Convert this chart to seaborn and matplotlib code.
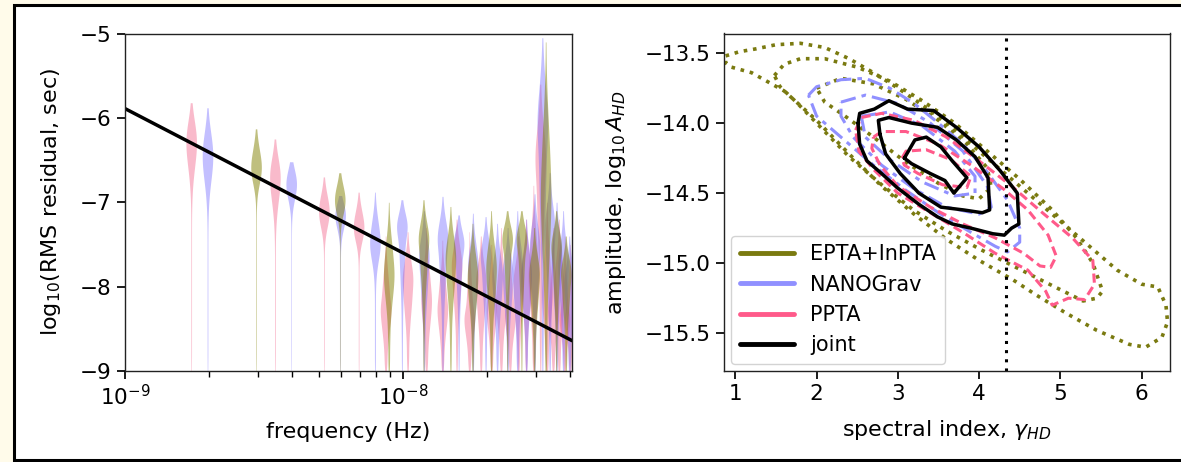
import numpy as np
import pandas as pd
import matplotlib
matplotlib.use("Agg")
import matplotlib.pyplot as plt
from matplotlib.patches import Rectangle
from matplotlib.lines import Line2D
from matplotlib.ticker import FixedLocator, LogLocator, NullFormatter
import seaborn as sns
from statistics import NormalDist

# ---------------- left panel: free-spectrum violins ----------------
# fundamental frequency (1/T) of each PTA, Hz
ppta_f1 = 1.73e-9
nano_f1 = 1.98e-9
epta_f1 = 2.96e-9

# per-frequency-bin posterior shape: top, mode, lower body edge (log10 s)
ppta_top = [-5.82, -6.25, -6.70, -6.88, -7.40, -7.35, -7.30, -7.45, -7.20, -7.35, -7.40, -7.50,
            -7.30, -7.60, -7.40, -7.20, -6.80, -5.60, -7.00, -7.30, -7.20, -7.40, -7.50]
ppta_mode = [-6.30, -6.72, -7.10, -7.28, -8.20, -7.95, -8.10, -8.20, -7.80, -8.30, -8.00, -8.20,
             -8.10, -8.30, -8.00, -7.90, -7.80, -6.60, -8.00, -8.20, -8.00, -8.30, -8.30]
ppta_low = [-6.95, -7.35, -7.45, -7.60, -8.90, -8.80, -8.90, -8.90, -8.70, -8.90, -8.90, -8.90,
            -8.90, -8.90, -8.90, -8.80, -8.80, -8.60, -8.90, -8.90, -8.90, -8.90, -8.90]

nano_top = [-5.88, -6.52, -6.92, -6.88, -6.97, -7.10, -6.93, -7.15, -7.13, -7.17, -7.25, -7.30,
            -7.10, -7.20, -6.90, -5.05, -6.65, -7.00, -7.10, -7.40]
nano_mode = [-6.45, -6.78, -7.15, -7.45, -7.35, -7.70, -7.50, -7.55, -7.80, -7.70, -7.90, -7.90,
             -7.80, -7.90, -7.60, -6.20, -7.40, -7.70, -7.80, -8.00]
nano_low = [-7.10, -7.10, -7.45, -7.95, -8.50, -8.70, -8.60, -8.60, -8.70, -8.70, -8.80, -8.80,
            -8.80, -8.80, -8.70, -8.50, -8.70, -8.80, -8.80, -8.90]

epta_top = [-6.13, -6.65, -7.00, -6.97, -7.05, -7.25, -7.10, -7.10, -7.10, -7.30, -5.10, -7.10, -7.40]
epta_mode = [-6.58, -6.97, -7.80, -7.50, -7.70, -7.90, -7.80, -7.50, -7.50, -7.90, -6.80, -7.60, -7.90]
epta_low = [-6.85, -7.25, -8.60, -8.50, -8.60, -8.70, -8.70, -8.60, -8.60, -8.80, -8.60, -8.70, -8.80]

# power-law reference line
line_freq = [1e-9, 4.05e-8]
line_val = [-5.89, -8.64]

# ---------------- right panel: (gamma, log10 A) contours ----------------
epta_cx = [
    [0.88, 1.05, 1.25, 1.5, 1.8, 2.1, 2.4, 2.7, 3.0, 3.3, 3.6, 3.9, 4.2, 4.5, 4.8, 5.1, 5.4, 5.7, 6.0, 6.2, 6.3,
     6.32, 6.25, 6.05, 5.85, 5.45, 5.08, 4.71, 4.42, 4.0, 3.6, 3.2, 2.8, 2.4, 2.0, 1.6, 1.2, 0.95, 0.88],
    [1.48, 1.6, 1.8, 2.1, 2.5, 2.9, 3.3, 3.7, 4.1, 4.5, 4.9, 5.2, 5.4, 5.52, 5.45, 5.28, 4.83, 4.42, 4.01, 3.6,
     3.19, 2.8, 2.4, 2.05, 1.75, 1.55],
    [2.0, 2.3, 2.7, 3.1, 3.5, 3.85, 4.1, 4.15, 4.0, 3.8, 3.5, 3.1, 2.7, 2.35, 2.1],
]
epta_cy = [
    [-13.52, -13.49, -13.47, -13.44, -13.43, -13.46, -13.54, -13.64, -13.75, -13.87, -14.0, -14.15, -14.3,
     -14.45, -14.6, -14.75, -14.9, -15.05, -15.15, -15.17, -15.3, -15.42, -15.53, -15.6, -15.58, -15.48,
     -15.36, -15.23, -15.12, -14.98, -14.83, -14.65, -14.45, -14.22, -13.98, -13.77, -13.64, -13.6, -13.57],
    [-13.66, -13.58, -13.54, -13.54, -13.6, -13.7, -13.84, -14.0, -14.2, -14.4, -14.62, -14.82, -15.0, -15.2,
     -15.25, -15.27, -15.14, -15.02, -14.9, -14.77, -14.62, -14.44, -14.24, -14.03, -13.85, -13.74],
    [-13.75, -13.68, -13.72, -13.83, -13.98, -14.15, -14.32, -14.46, -14.54, -14.52, -14.43, -14.28, -14.1,
     -13.95, -13.85],
]

nano_cx = [
    [1.9, 2.0, 2.3, 2.6, 2.9, 3.2, 3.5, 3.8, 4.1, 4.35, 4.5, 4.5, 4.35, 4.2, 3.9, 3.5, 3.1, 2.7, 2.3, 2.0],
    [2.3, 2.6, 3.0, 3.4, 3.8, 4.1, 4.15, 4.0, 3.6, 3.2, 2.8, 2.45, 2.3],
    [2.55, 2.9, 3.3, 3.7, 3.95, 3.95, 3.7, 3.3, 2.9, 2.6],
]
nano_cy = [
    [-13.8, -13.74, -13.69, -13.68, -13.75, -13.86, -14.0, -14.15, -14.35, -14.55, -14.75, -14.85, -14.92,
     -14.88, -14.78, -14.64, -14.48, -14.3, -14.1, -13.95],
    [-13.85, -13.8, -13.86, -14.0, -14.2, -14.45, -14.6, -14.65, -14.6, -14.47, -14.3, -14.1, -13.95],
    [-13.95, -13.92, -14.02, -14.2, -14.38, -14.5, -14.52, -14.42, -14.26, -14.1],
]

ppta_cx = [
    [2.48, 2.55, 2.8, 3.2, 3.6, 4.0, 4.4, 4.8, 5.15, 5.4, 5.42, 5.3, 5.1, 4.9, 4.82, 4.6, 4.2, 3.8, 3.4, 3.0,
     2.7, 2.52],
    [2.7, 2.8, 3.1, 3.5, 3.9, 4.3, 4.6, 4.85, 4.95, 4.88, 4.75, 4.55, 4.2, 3.8, 3.4, 3.0, 2.78, 2.68],
    [3.05, 3.1, 3.35, 3.65, 3.9, 3.85, 3.55, 3.25, 3.08],
]
ppta_cy = [
    [-14.05, -13.96, -13.93, -13.98, -14.1, -14.27, -14.45, -14.65, -14.82, -14.98, -15.15, -15.26, -15.25,
     -15.3, -15.2, -15.05, -14.93, -14.78, -14.64, -14.5, -14.33, -14.2],
    [-14.1, -14.06, -14.06, -14.15, -14.3, -14.47, -14.62, -14.8, -14.95, -15.03, -15.02, -14.93, -14.82,
     -14.72, -14.6, -14.45, -14.3, -14.18],
    [-14.25, -14.2, -14.19, -14.26, -14.38, -14.46, -14.44, -14.36, -14.3],
]

joint_cx = [
    [2.51, 2.53, 2.71, 2.89, 3.12, 3.44, 3.72, 4.0, 4.26, 4.47, 4.49, 4.40, 4.31, 4.17, 3.90, 3.67, 3.49,
     3.26, 2.99, 2.80, 2.62, 2.53],
    [2.78, 2.76, 2.89, 3.17, 3.49, 3.72, 3.95, 4.11, 4.13, 4.04, 3.81, 3.53, 3.26, 3.03, 2.85],
    [3.08, 3.21, 3.35, 3.53, 3.67, 3.85, 3.69, 3.58, 3.40, 3.17],
]
joint_cy = [
    [-14.0, -13.93, -13.9, -13.84, -13.9, -13.91, -14.03, -14.17, -14.34, -14.5, -14.72, -14.75, -14.8,
     -14.79, -14.75, -14.72, -14.67, -14.58, -14.46, -14.36, -14.27, -14.15],
    [-14.08, -13.98, -13.96, -14.0, -14.03, -14.12, -14.24, -14.39, -14.62, -14.64, -14.62, -14.6, -14.5,
     -14.36, -14.22],
    [-14.25, -14.12, -14.1, -14.17, -14.27, -14.39, -14.5, -14.41, -14.36, -14.29],
]

gamma_hd = 13.0 / 3.0

labels = ["EPTA+InPTA", "NANOGrav", "PPTA", "joint"]
freq_ticks = [1e-9, 1e-8]
amp_ticks = [-13.5, -14.0, -14.5, -15.0, -15.5]
gamma_ticks = [1, 2, 3, 4, 5, 6]
rms_ticks = [-5, -6, -7, -8, -9]

# ---------------- style ----------------
sns.set_theme(style="ticks")
plt.rcParams["font.family"] = ["DejaVu Sans"]
plt.rcParams["mathtext.fontset"] = "dejavusans"
for k in ("text.color", "axes.labelcolor", "xtick.color", "ytick.color", "axes.edgecolor"):
    plt.rcParams[k] = "black"
TICK = 15.5
LAB = 16

c_epta_v, c_nano_v, c_ppta_v = "#808000", "#6a60ff", "#f04a78"
c_epta, c_nano, c_ppta, c_joint = "#7a7a10", "#9090ff", "#ff5a8a", "black"

fig = plt.figure(figsize=(11.81, 4.62), dpi=100)
fig.patch.set_facecolor("#FFFBEA")
fig.add_artist(Rectangle((14.5 / 1181, 2 / 462), 1.2, 1 - 4.5 / 462 - 2 / 462,
                         transform=fig.transFigure, facecolor="white", edgecolor="black",
                         linewidth=2.2, zorder=-5))

bottom = 1 - 371 / 462
height = (371 - 33.5) / 462
ax1 = fig.add_axes([125 / 1181, bottom, (572 - 125) / 1181, height])
ax2 = fig.add_axes([724 / 1181, bottom, (1170 - 724) / 1181, height])

ND = NormalDist()


def violin_samples(top, mode, low, n=40, ntail=22):
    q = 0.5 + (np.arange(n) + 0.5) / (2 * n)
    z = np.array([ND.inv_cdf(v) for v in q])
    z = z / z.max()
    up = mode + (top - mode) * z
    dn = mode - (mode - low) * z
    tail = np.linspace(-9.0, mode, ntail)
    return np.concatenate([up, dn, tail])


def pta_frame(f1, tops, modes, lows):
    rows = []
    for k, (t, m, l) in enumerate(zip(tops, modes, lows), start=1):
        for v in violin_samples(t, m, l):
            rows.append((k * f1, v))
    return pd.DataFrame(rows, columns=["freq", "val"])


vw = 0.038  # violin width in decades
for f1, tops, modes, lows, col, al in [
    (ppta_f1, ppta_top, ppta_mode, ppta_low, c_ppta_v, 0.38),
    (nano_f1, nano_top, nano_mode, nano_low, c_nano_v, 0.40),
    (epta_f1, epta_top, epta_mode, epta_low, c_epta_v, 0.50),
]:
    df = pta_frame(f1, tops, modes, lows)
    freqs = np.unique(df["freq"].values)
    native = np.diff(np.log10(freqs)).min()
    sns.violinplot(data=df, x="freq", y="val", native_scale=True, log_scale=(True, False),
                   orient="x", color=col, saturation=1, alpha=al, linewidth=0, inner=None,
                   cut=0, density_norm="width", bw_adjust=0.6, width=vw / native, ax=ax1)

sns.lineplot(x=line_freq, y=line_val, color="black", lw=2.5, ax=ax1)
ax1.set_xscale("log")
ax1.set_xlim(1e-9, 4.05e-8)
ax1.set_ylim(-9, -5)
ax1.xaxis.set_major_locator(FixedLocator(freq_ticks))
ax1.xaxis.set_minor_locator(LogLocator(base=10, subs=np.arange(2, 10)))
ax1.xaxis.set_minor_formatter(NullFormatter())
ax1.set_yticks(rms_ticks)
ax1.set_xlabel("frequency (Hz)", fontsize=LAB, labelpad=9)
ax1.set_ylabel(r"log$_{10}$(RMS residual, sec)", fontsize=LAB, labelpad=12)
ax1.tick_params(labelsize=TICK)

# right panel
styles = [
    (epta_cx, epta_cy, c_epta, (0, (1, 1.6)), 2.6),
    (nano_cx, nano_cy, c_nano, (0, (5, 2, 1.5, 2)), 2.2),
    (ppta_cx, ppta_cy, c_ppta, (0, (3, 1.6)), 2.2),
    (joint_cx, joint_cy, c_joint, "-", 2.5),
]
for cxs, cys, col, ls, lw in styles:
    for cx, cy in zip(cxs, cys):
        xs = list(cx) + [cx[0]]
        ys = list(cy) + [cy[0]]
        sns.lineplot(x=xs, y=ys, sort=False, estimator=None, color=col, linestyle=ls, lw=lw, ax=ax2)

ax2.axvline(gamma_hd, color="black", linestyle=(0, (1, 2)), lw=2.2)
ax2.set_xlim(0.86, 6.35)
ax2.set_ylim(-15.77, -13.36)
ax2.set_xticks(gamma_ticks)
ax2.set_yticks(amp_ticks)
ax2.set_xlabel(r"spectral index, $\gamma_{HD}$", fontsize=LAB, labelpad=10)
ax2.set_ylabel(r"amplitude, $\log_{10}A_{HD}$", fontsize=LAB, labelpad=12)
ax2.tick_params(labelsize=TICK)

handles = [Line2D([0], [0], color=c, lw=3.5) for c in (c_epta, c_nano, c_ppta, c_joint)]
ax2.legend(handles, labels, loc="lower left", fontsize=15, handlelength=2.6,
           borderaxespad=0.35, framealpha=0.85)

for ax in (ax1, ax2):
    for s in ax.spines.values():
        s.set_linewidth(1.0)
        s.set_color("#222222")

fig.savefig("out.png", dpi=100)
